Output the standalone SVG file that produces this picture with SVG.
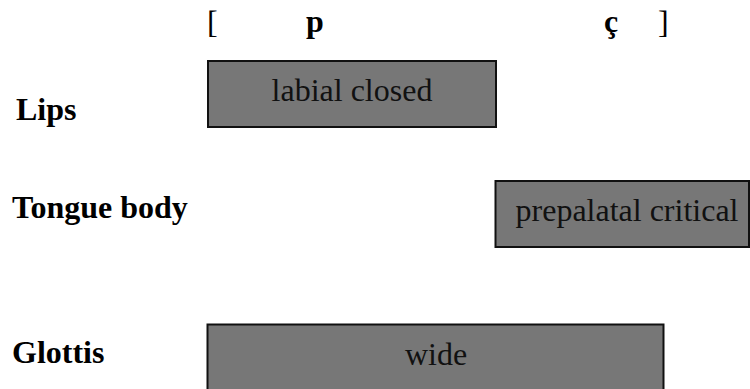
<svg xmlns="http://www.w3.org/2000/svg" width="750" height="389" viewBox="0 0 750 389">
<style>
.box{fill:#777777;stroke:#111111;stroke-width:2}
text{font-family:'Liberation Serif',Tinos,'Times New Roman',Times,serif;font-size:32px;fill:#000}
.b{font-weight:bold}
.c{text-anchor:middle;fill:#111}
</style>
<rect width="750" height="389" fill="#ffffff"/>
<g id="segments">
<text x="207" y="33">[</text>
<text class="b" x="306" y="32">p</text>
<text class="b" x="604" y="32">ç</text>
<text x="658" y="33">]</text>
</g>
<g id="labels">
<text class="b" x="16" y="120">Lips</text>
<text class="b" x="12" y="218">Tongue body</text>
<text class="b" x="12" y="363">Glottis</text>
</g>
<g id="node-labial">
<rect class="box" x="208" y="61" width="288" height="66"/>
<text class="c" x="352" y="101">labial closed</text>
</g>
<g id="node-prepalatal">
<rect class="box" x="495.5" y="181" width="253.5" height="66"/>
<text class="c" x="627" y="221">prepalatal critical</text>
</g>
<g id="node-wide">
<rect class="box" x="207.5" y="324.5" width="456" height="70"/>
<text class="c" x="436" y="365">wide</text>
</g>
<g id="connectors"></g>
</svg>
